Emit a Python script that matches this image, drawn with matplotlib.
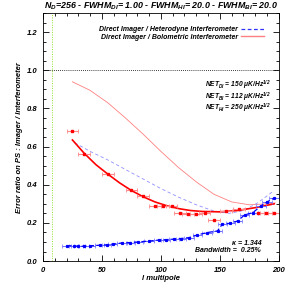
import numpy as np
import matplotlib
matplotlib.use("Agg")
import matplotlib.pyplot as plt
from matplotlib.lines import Line2D
from matplotlib.ticker import MultipleLocator

plt.rcParams['font.family'] = ['Liberation Sans', 'DejaVu Sans']
plt.rcParams['mathtext.fontset'] = 'custom'
plt.rcParams['mathtext.rm'] = 'Liberation Sans:italic:bold'
plt.rcParams['mathtext.it'] = 'Liberation Sans:italic:bold'
plt.rcParams['mathtext.bf'] = 'Liberation Sans:italic:bold'

# theory curves (thin)
bolo_theory_l = [25, 40, 55, 70, 85, 100, 115, 130, 145, 160, 175, 190, 197]
bolo_theory_v = [0.94, 0.895, 0.83, 0.75, 0.665, 0.575, 0.49, 0.415, 0.35, 0.31, 0.295, 0.30, 0.305]
het_theory_l = [27, 40, 55, 70, 85, 100, 115, 130, 145, 158, 170, 182, 195]
het_theory_v = [0.62, 0.575, 0.53, 0.48, 0.43, 0.38, 0.335, 0.295, 0.262, 0.25, 0.265, 0.305, 0.365]

# fitted curve through bolometric points (thick red)
bolo_fit_l = [25, 35, 45, 55, 65, 75, 85, 95, 105, 115, 125, 135, 150, 165, 180, 196]
bolo_fit_v = [0.635, 0.565, 0.505, 0.456, 0.41, 0.37, 0.337, 0.31, 0.29, 0.275, 0.265, 0.26,
              0.258, 0.265, 0.28, 0.30]

# simulated points
bolo_l = [25, 35, 55, 75, 85, 95, 102, 109, 116, 123, 130, 137, 145, 155, 166, 182, 189, 196]
bolo_v = [0.68, 0.563, 0.456, 0.37, 0.339, 0.29, 0.29, 0.29, 0.25, 0.245, 0.245, 0.25,
          0.213, 0.265, 0.275, 0.25, 0.25, 0.25]
het_l = [20, 26, 30, 35, 40, 48, 54, 59, 67, 74, 81, 90, 98, 104, 111, 117, 124, 131,
         139, 148, 152, 159, 165, 171, 178, 185, 190, 196]
het_v = [0.08, 0.08, 0.077, 0.078, 0.08, 0.083, 0.085, 0.088, 0.095, 0.097, 0.10, 0.105,
         0.11, 0.112, 0.115, 0.118, 0.123, 0.137, 0.149, 0.158, 0.193, 0.198, 0.21,
         0.242, 0.254, 0.29, 0.31, 0.33]

fig = plt.figure(figsize=(2.92, 2.92), dpi=100)
ax = fig.add_axes([0.147, 0.106, 0.808, 0.849])

ax.axhline(1.0, color='black', lw=0.6, ls=(0, (1, 1.5)))
ax.axvline(8, color='#90e030', lw=0.7, ls=(0, (1, 1.5)))

ax.plot(bolo_theory_l, bolo_theory_v, color='#ff8080', lw=0.6)
ax.plot(het_theory_l, het_theory_v, color='#9090ff', lw=0.6, ls=(0, (4, 3)))
ax.plot(bolo_fit_l, bolo_fit_v, color='red', lw=1.2)

ax.errorbar(bolo_l, bolo_v, xerr=5, fmt='s', ms=1.6, color='red',
            ecolor='#ff8888', elinewidth=0.8, capsize=1.5, capthick=0.6, lw=0)
ax.errorbar(het_l, het_v, xerr=4, fmt='s', ms=1.3, color='blue',
            ecolor='#7070ff', elinewidth=0.7, capsize=1.2, capthick=0.5)
ax.plot(het_l, het_v, color='blue', lw=0.9, ls=(0, (4, 2)))

ax.set_xlim(0, 200)
ax.set_ylim(0, 1.3)
ax.xaxis.set_major_locator(MultipleLocator(50))
ax.xaxis.set_minor_locator(MultipleLocator(10))
ax.yaxis.set_major_locator(MultipleLocator(0.2))
ax.yaxis.set_minor_locator(MultipleLocator(0.05))
ax.yaxis.set_major_formatter(matplotlib.ticker.FormatStrFormatter('%.1f'))
ax.tick_params(which='both', direction='in', top=True, right=True, labelsize=5.5, pad=4)
ax.tick_params(which='major', length=4, width=0.6)
ax.tick_params(which='minor', length=2.5, width=0.6)
for lab in ax.get_xticklabels() + ax.get_yticklabels():
    lab.set_fontstyle('italic')
    lab.set_fontweight('bold')
for s in ax.spines.values():
    s.set_linewidth(0.6)

ax.set_xlabel('l multipole', fontsize=5.5, style='italic', weight='bold', labelpad=1)
ax.set_ylabel('Error ratio on PS : Imager / Interferometer', fontsize=5.5,
              style='italic', weight='bold', labelpad=3)
ax.set_title(r'N$_D$=256 - FWHM$_{DI}$= 1.00 - FWHM$_{HI}$= 20.0 - FWHM$_{BI}$= 20.0',
             fontsize=6.4, style='italic', weight='bold', pad=3)

handles = [Line2D([], [], color='#3030ff', lw=0.9, ls=(0, (3, 2))),
           Line2D([], [], color='#ff8080', lw=1.0)]
labels = ['Direct Imager / Heterodyne Interferometer',
          'Direct Imager / Bolometric Interferometer']
leg = ax.legend(handles, labels, loc='upper right', bbox_to_anchor=(0.955, 0.965),
                frameon=False, markerfirst=False, fontsize=5.0, handlelength=3.3,
                handletextpad=0.5, labelspacing=0.1, borderaxespad=0.2)
for t in leg.get_texts():
    t.set_fontstyle('italic')
    t.set_fontweight('bold')

net_txt = ('NET$_{DI}$ = 150 \u03bcK/Hz$^{1/2}$\n'
           'NET$_{BI}$ = 112 \u03bcK/Hz$^{1/2}$\n'
           'NET$_{HI}$ = 250 \u03bcK/Hz$^{1/2}$')
ax.text(0.685, 0.735, net_txt, transform=ax.transAxes, fontsize=4.8, style='italic',
        weight='bold', va='top', ha='left', linespacing=0.8)

ax.text(0.925, 0.03, '\u03ba = 1.344\nBandwidth =  0.25%', transform=ax.transAxes,
        fontsize=5.0, style='italic', weight='bold', ha='right', va='bottom',
        linespacing=1.0, multialignment='right')

fig.savefig('out.png', dpi=100)
